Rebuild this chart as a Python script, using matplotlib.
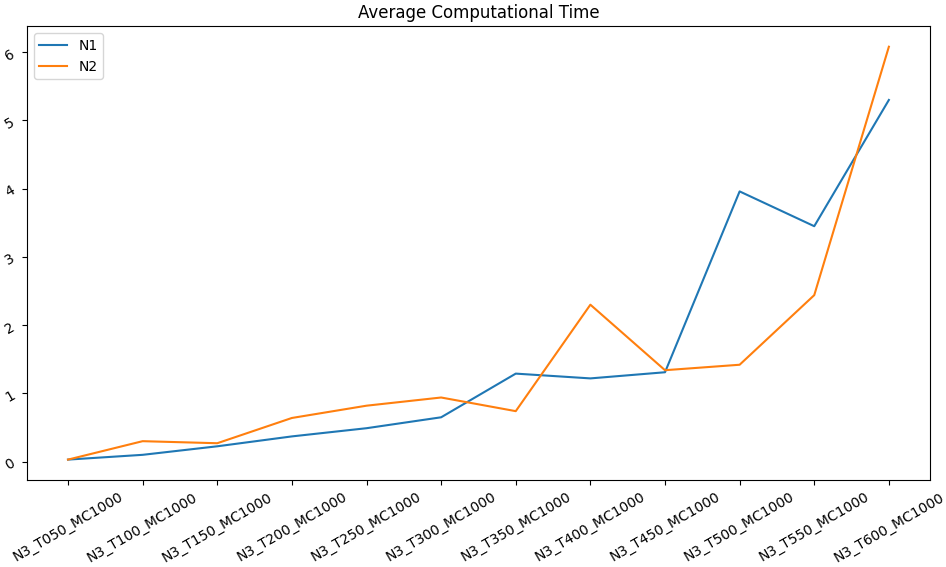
import matplotlib
matplotlib.use('Agg')
import matplotlib.pyplot as plt

# average run time per configuration
configs = ['N3_T050_MC1000', 'N3_T100_MC1000', 'N3_T150_MC1000', 'N3_T200_MC1000',
           'N3_T250_MC1000', 'N3_T300_MC1000', 'N3_T350_MC1000', 'N3_T400_MC1000',
           'N3_T450_MC1000', 'N3_T500_MC1000', 'N3_T550_MC1000', 'N3_T600_MC1000']
n1_time = [0.03, 0.10, 0.225, 0.37, 0.49, 0.65, 1.29, 1.22, 1.31, 3.96, 3.45, 5.30]
n2_time = [0.03, 0.30, 0.27, 0.64, 0.82, 0.94, 0.74, 2.30, 1.34, 1.42, 2.44, 6.08]

fig = plt.figure(figsize=(9.46, 5.67), dpi=100)
plt.plot(configs, n1_time, label='N1')
plt.plot(configs, n2_time, label='N2')
plt.xticks(rotation=30)
plt.yticks(rotation=30)
plt.title('Average Computational Time')
plt.legend(loc='upper left')
plt.subplots_adjust(left=0.0285, right=0.983, top=0.954, bottom=0.153)
plt.savefig('out.png')
